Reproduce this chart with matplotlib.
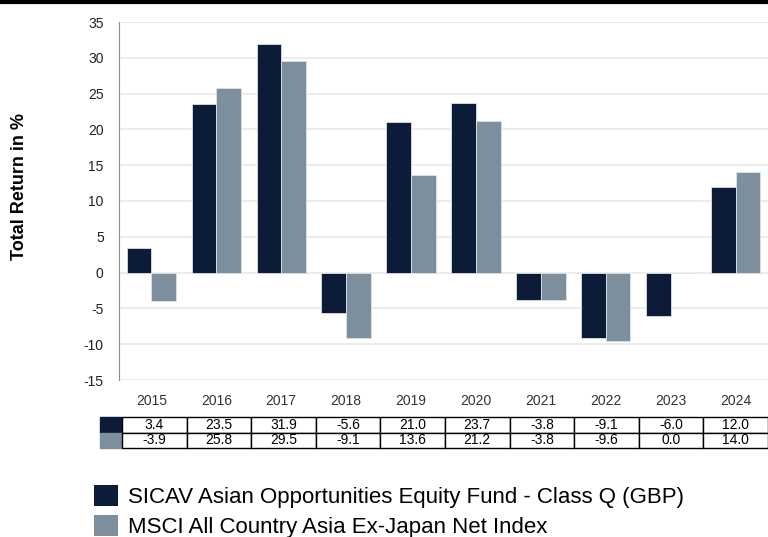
import numpy as np
import matplotlib
matplotlib.use('Agg')
import matplotlib.pyplot as plt
from matplotlib.patches import Patch

plt.rcParams['font.family'] = ['Liberation Sans', 'DejaVu Sans']
plt.rcParams['axes.unicode_minus'] = False

# calendar year returns
years = ['2015', '2016', '2017', '2018', '2019', '2020', '2021', '2022', '2023', '2024']
fund = [3.4, 23.5, 31.9, -5.6, 21.0, 23.7, -3.8, -9.1, -6.0, 12.0]
index = [-3.9, 25.8, 29.5, -9.1, 13.6, 21.2, -3.8, -9.6, 0.0, 14.0]
fund_name = 'SICAV Asian Opportunities Equity Fund - Class Q (GBP)'
index_name = 'MSCI All Country Asia Ex-Japan Net Index'

c_fund = '#0b1b38'
c_index = '#7d8e9d'

fig = plt.figure(figsize=(7.68, 5.37), dpi=100)
ax = fig.add_axes([119/768, 1-380/537, 649/768, 358/537])

x = np.arange(len(years))
w = 0.38
ax.bar(x - w/2, fund, w, color=c_fund, edgecolor='#dde2e8', linewidth=0.6, zorder=3)
ax.bar(x + w/2, index, w, color=c_index, edgecolor='#dde2e8', linewidth=0.6, zorder=3)

ax.set_xlim(-0.5, len(years) - 0.5)
ax.set_ylim(-15, 35)
ax.set_yticks(np.arange(-15, 36, 5))
ax.set_xticks(x)
ax.set_xticklabels(years)
ax.tick_params(axis='x', length=0, pad=10, labelsize=10, colors='#333333')
ax.tick_params(axis='y', length=0, pad=11, labelsize=10, colors='#222222')
ax.yaxis.grid(True, color='#ebebeb', linewidth=1.3, zorder=0)
ax.set_axisbelow(True)
for s in ['top', 'right', 'bottom']:
    ax.spines[s].set_visible(False)
ax.spines['left'].set_color('#8c8c8c')
ax.spines['left'].set_linewidth(0.8)

fig.text(20/768, 1-187/537, 'Total Return in %', rotation=90, ha='center', va='center',
         fontsize=13, fontweight='bold')

# data table under the chart
cells = [[''] + ['%.1f' % v for v in fund], [''] + ['%.1f' % v for v in index]]
colours = [[c_fund] + ['white'] * len(years), [c_index] + ['white'] * len(years)]
tw = 22/649
tbl = ax.table(cellText=cells, cellColours=colours, cellLoc='center',
               colWidths=[tw] + [0.1] * len(years),
               bbox=[-19/649, (380-448)/358, 668/649, 31/358])
tbl.auto_set_font_size(False)
tbl.set_fontsize(10)
for (r, c), cell in tbl.get_celld().items():
    cell.set_edgecolor('black')
    cell.set_linewidth(1.0)
    if c == 0:
        cell.set_edgecolor(colours[r][0])

# top rule
fig.add_artist(plt.Line2D([0, 1], [1-1.5/537, 1-1.5/537], color='black', linewidth=3,
                          transform=fig.transFigure))

handles = [Patch(facecolor=c_fund, edgecolor='none'), Patch(facecolor=c_index, edgecolor='none')]
fig.legend(handles, [fund_name, index_name], loc='lower left',
           bbox_to_anchor=(85/768, -10/537), frameon=False, fontsize=16,
           handlelength=1.08, handleheight=1.08, handletextpad=0.45, labelspacing=0.33,
           borderaxespad=0)

fig.savefig('out.png', dpi=100)
